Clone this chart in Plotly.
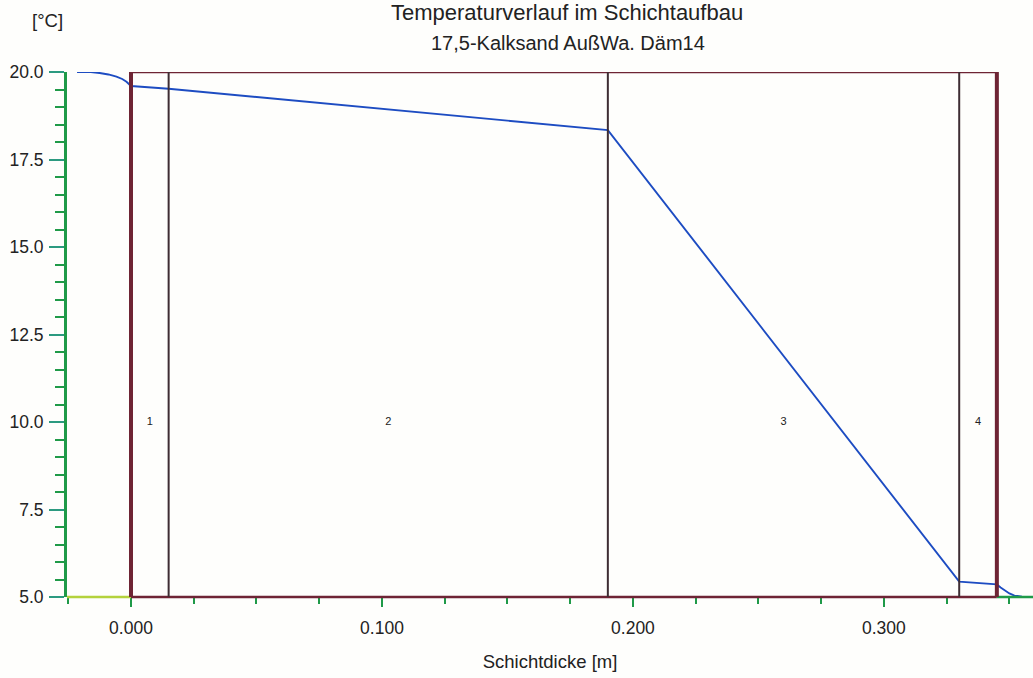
import numpy as np
import plotly.graph_objects as go

# Layer build-up (thickness in m)
layer_names = ["1", "2", "3", "4"]
layer_thickness = [0.015, 0.175, 0.140, 0.015]

# Temperature profile through the wall incl. surface boundary layers
pos_m = [-0.0215, -0.016, -0.0125, -0.009, -0.0058, -0.0035, -0.0018, -0.0006, 0.0,
         0.015, 0.19, 0.33, 0.345,
         0.3465, 0.348, 0.350, 0.352, 0.355, 0.36]
temp_c = [20.0, 19.995, 19.97, 19.93, 19.87, 19.80, 19.72, 19.65, 19.60,
          19.52, 18.34, 5.44, 5.36,
          5.27, 5.19, 5.10, 5.04, 5.01, 5.0]

y_ticks = [5.0, 7.5, 10.0, 12.5, 15.0, 17.5, 20.0]
x_ticks = [0.0, 0.1, 0.2, 0.3]
y_min, y_max = 5.0, 20.0
x_min, x_max = -0.0255, 0.3594
label_temp = 10.0

bounds = np.concatenate([[0.0], np.cumsum(layer_thickness)])
centers = (bounds[:-1] + bounds[1:]) / 2

FONT = "Liberation Sans, Arial, sans-serif"
GREEN = "#1f9a48"
MAROON = "#6e2434"
INNER = "#3e2d33"

fig = go.Figure()

# x axis baseline: inside air / wall / outside air
for x0, x1, col in ((x_min, bounds[0], "#b4d23c"),
                    (bounds[0], bounds[-1], MAROON),
                    (bounds[-1], x_max, GREEN)):
    fig.add_shape(type="line", xref="x", yref="paper", x0=x0, x1=x1, y0=0, y1=0,
                  line=dict(color=col, width=2.5), layer="above")

# top edge of the layer block
fig.add_shape(type="line", xref="x", yref="y", x0=bounds[0], x1=bounds[-1],
              y0=y_max, y1=y_max, line=dict(color=MAROON, width=2.5), layer="above")

# layer boundaries
for i, b in enumerate(bounds):
    outer = i == 0 or i == len(bounds) - 1
    fig.add_shape(type="line", xref="x", yref="y", x0=b, x1=b, y0=y_min, y1=y_max,
                  line=dict(color=MAROON if outer else INNER, width=4 if outer else 2),
                  layer="above")

fig.add_trace(go.Scatter(x=pos_m, y=temp_c, mode="lines",
                         line=dict(color="#1d4cc2", width=1.9),
                         hoverinfo="skip", showlegend=False))

fig.add_trace(go.Scatter(x=centers, y=[label_temp] * len(centers), mode="text",
                         text=layer_names, textfont=dict(family=FONT, size=11, color="#222"),
                         hoverinfo="skip", showlegend=False))

fig.update_layout(
    width=1033, height=678,
    margin=dict(l=67, r=0, t=72, b=81),
    paper_bgcolor="#fefefc", plot_bgcolor="#fefefc",
    font=dict(family=FONT, size=17.5, color="#222"),
    showlegend=False,
    xaxis=dict(range=[x_min, x_max], tickvals=x_ticks, tickformat=".3f",
               showgrid=False, zeroline=False, showline=False,
               ticks="outside", ticklen=9, tickwidth=2, tickcolor=GREEN,
               minor=dict(dtick=0.025, tick0=0, ticks="outside", ticklen=6,
                          tickwidth=2, tickcolor=GREEN),
               ticklabelstandoff=6,
               title=dict(text="Schichtdicke [m]", font=dict(size=18.5), standoff=18)),
    yaxis=dict(range=[y_min, y_max], tickvals=y_ticks, tickformat=".1f",
               showgrid=False, zeroline=False,
               showline=True, linecolor=GREEN, linewidth=3,
               ticks="outside", ticklen=15, tickwidth=1.5, tickcolor="#2c9a80",
               minor=dict(dtick=0.5, tick0=5, ticks="outside", ticklen=9,
                          tickwidth=1.5, tickcolor=GREEN),
               ticklabelstandoff=2),
    annotations=[
        dict(text="Temperaturverlauf im Schichtaufbau", xref="paper", yref="paper",
             x=(567 - 67) / 966, y=1 + (72 - 13) / 525, xanchor="center", yanchor="middle",
             showarrow=False, font=dict(size=22)),
        dict(text="17,5-Kalksand AußWa. Däm14", xref="paper", yref="paper",
             x=(568 - 67) / 966, y=1 + (72 - 43) / 525, xanchor="center", yanchor="middle",
             showarrow=False, font=dict(size=20)),
        dict(text="[°C]", xref="paper", yref="paper",
             x=(47 - 67) / 966, y=1 + (72 - 20) / 525, xanchor="center", yanchor="middle",
             showarrow=False, font=dict(size=18.5)),
    ],
)

fig.write_html("out.html")
